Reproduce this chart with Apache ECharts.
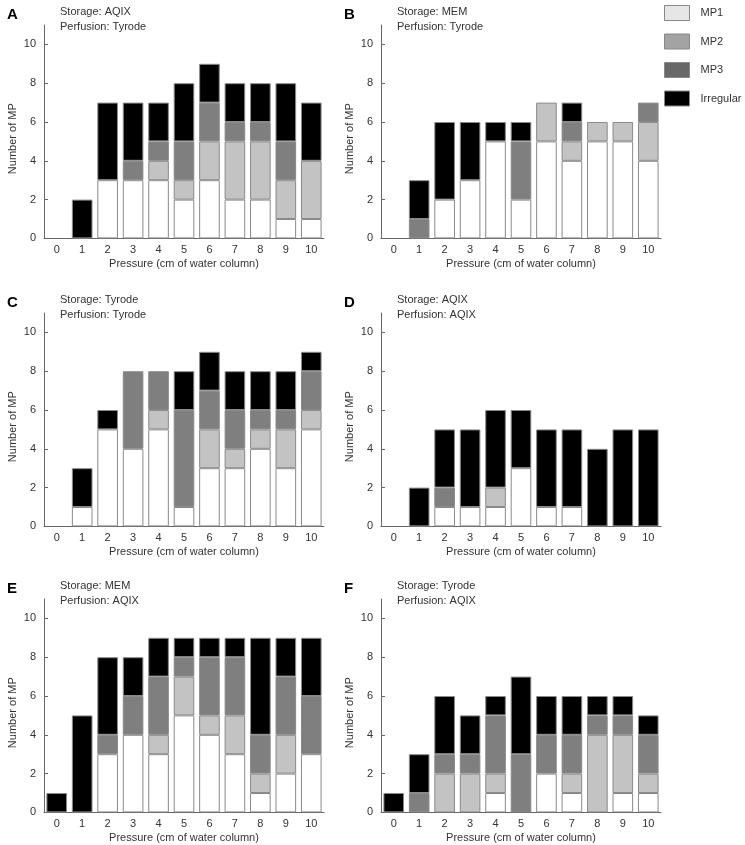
<!DOCTYPE html>
<html>
<head>
<meta charset="utf-8">
<script src="https://cdn.jsdelivr.net/npm/echarts@6/dist/echarts.min.js"></script>
<style>
  html, body { margin: 0; padding: 0; background: #fff; }
  #chart { width: 745px; height: 845px; }
</style>
</head>
<body>
<div id="chart"></div>
<script>
  // pressure categories (cm of water column)
  const pressures = ['0', '1', '2', '3', '4', '5', '6', '7', '8', '9', '10']
  const yTicks = [0, 2, 4, 6, 8, 10]
  const seriesNames = ['MP1', 'MP2', 'MP3', 'Irregular']

  // A: Storage AQIX / Perfusion Tyrode
  const A_MP1 = [0, 0, 3, 3, 3, 2, 3, 2, 2, 1, 1]
  const A_MP2 = [0, 0, 0, 0, 1, 1, 2, 3, 3, 2, 3]
  const A_MP3 = [0, 0, 0, 1, 1, 2, 2, 1, 1, 2, 0]
  const A_IRR = [0, 2, 4, 3, 2, 3, 2, 2, 2, 3, 3]
  // B: Storage MEM / Perfusion Tyrode
  const B_MP1 = [0, 0, 2, 3, 5, 2, 5, 4, 5, 5, 4]
  const B_MP2 = [0, 0, 0, 0, 0, 0, 2, 1, 1, 1, 2]
  const B_MP3 = [0, 1, 0, 0, 0, 3, 0, 1, 0, 0, 1]
  const B_IRR = [0, 2, 4, 3, 1, 1, 0, 1, 0, 0, 0]
  // C: Storage Tyrode / Perfusion Tyrode
  const C_MP1 = [0, 1, 5, 4, 5, 1, 3, 3, 4, 3, 5]
  const C_MP2 = [0, 0, 0, 0, 1, 0, 2, 1, 1, 2, 1]
  const C_MP3 = [0, 0, 0, 4, 2, 5, 2, 2, 1, 1, 2]
  const C_IRR = [0, 2, 1, 0, 0, 2, 2, 2, 2, 2, 1]
  // D: Storage AQIX / Perfusion AQIX
  const D_MP1 = [0, 0, 1, 1, 1, 3, 1, 1, 0, 0, 0]
  const D_MP2 = [0, 0, 0, 0, 1, 0, 0, 0, 0, 0, 0]
  const D_MP3 = [0, 0, 1, 0, 0, 0, 0, 0, 0, 0, 0]
  const D_IRR = [0, 2, 3, 4, 4, 3, 4, 4, 4, 5, 5]
  // E: Storage MEM / Perfusion AQIX
  const E_MP1 = [0, 0, 3, 4, 3, 5, 4, 3, 1, 2, 3]
  const E_MP2 = [0, 0, 0, 0, 1, 2, 1, 2, 1, 2, 0]
  const E_MP3 = [0, 0, 1, 2, 3, 1, 3, 3, 2, 3, 3]
  const E_IRR = [1, 5, 4, 2, 2, 1, 1, 1, 5, 2, 3]
  // F: Storage Tyrode / Perfusion AQIX
  const F_MP1 = [0, 0, 0, 0, 1, 0, 2, 1, 0, 1, 1]
  const F_MP2 = [0, 0, 2, 2, 1, 0, 0, 1, 4, 3, 1]
  const F_MP3 = [0, 1, 1, 1, 3, 3, 2, 2, 1, 1, 2]
  const F_IRR = [1, 2, 3, 2, 1, 4, 2, 2, 1, 1, 1]

  const panels = [
    { letter: 'A', storage: 'AQIX', perfusion: 'Tyrode', data: [A_MP1, A_MP2, A_MP3, A_IRR] },
    { letter: 'B', storage: 'MEM', perfusion: 'Tyrode', data: [B_MP1, B_MP2, B_MP3, B_IRR] },
    { letter: 'C', storage: 'Tyrode', perfusion: 'Tyrode', data: [C_MP1, C_MP2, C_MP3, C_IRR] },
    { letter: 'D', storage: 'AQIX', perfusion: 'AQIX', data: [D_MP1, D_MP2, D_MP3, D_IRR] },
    { letter: 'E', storage: 'MEM', perfusion: 'AQIX', data: [E_MP1, E_MP2, E_MP3, E_IRR] },
    { letter: 'F', storage: 'Tyrode', perfusion: 'AQIX', data: [F_MP1, F_MP2, F_MP3, F_IRR] }
  ]

  const barColors = ['#ffffff', '#c2c3c2', '#7f7f7f', '#000000']
  const legendColors = ['#e6e6e6', '#a3a3a3', '#686868', '#000000']
  const font = 'Liberation Sans'
  const lefts = [44, 381]
  const tops = [25, 313, 599]
  const gridW = 280
  const gridH = 213.4

  const grids = []
  const xAxes = []
  const yAxes = []
  const series = []
  const graphics = []

  panels.forEach((p, i) => {
    const left = lefts[i % 2]
    const top = tops[Math.floor(i / 2)]
    grids.push({ left: left, top: top, width: gridW, height: gridH })
    xAxes.push({
      type: 'category',
      gridIndex: i,
      data: pressures,
      name: 'Pressure (cm of water column)',
      nameLocation: 'middle',
      nameGap: 20,
      nameTextStyle: { fontFamily: font, fontSize: 11, color: '#333' },
      axisLine: { lineStyle: { color: '#666', width: 1 } },
      axisTick: { inside: true, length: 4, lineStyle: { color: '#666' } },
      axisLabel: { fontFamily: font, fontSize: 11, color: '#333', margin: 6 }
    })
    yAxes.push({
      type: 'value',
      gridIndex: i,
      min: 0,
      max: 11,
      interval: 2,
      name: 'Number of MP',
      nameLocation: 'middle',
      nameGap: 26,
      nameTextStyle: { fontFamily: font, fontSize: 11, color: '#333', padding: [0, 14, 0, 0] },
      splitLine: { show: false },
      axisLine: { show: true, lineStyle: { color: '#666', width: 1 } },
      axisTick: { show: true, inside: true, length: 4, customValues: yTicks, lineStyle: { color: '#666' } },
      axisLabel: { fontFamily: font, fontSize: 11, color: '#333', margin: 8, customValues: yTicks }
    })
    p.data.forEach((vals, k) => {
      series.push({
        name: seriesNames[k],
        type: 'bar',
        xAxisIndex: i,
        yAxisIndex: i,
        stack: 'panel' + p.letter,
        barWidth: '81%',
        itemStyle: { color: barColors[k], borderColor: '#8a8a8a', borderWidth: 1 },
        data: vals.map(v => (v === 0 ? '-' : v))
      })
    })
    graphics.push({
      type: 'text',
      left: left - 37,
      top: top - 18,
      style: { text: p.letter, font: 'bold 15px ' + font, fill: '#000' }
    })
    graphics.push({
      type: 'text',
      left: left + 16,
      top: top - 19,
      style: { text: 'Storage: ' + p.storage, font: '11px ' + font, fill: '#333' }
    })
    graphics.push({
      type: 'text',
      left: left + 16,
      top: top - 4,
      style: { text: 'Perfusion: ' + p.perfusion, font: '11px ' + font, fill: '#333' }
    })
  })

  const chart = echarts.init(document.getElementById('chart'))
  chart.setOption({
    animation: false,
    legend: {
      orient: 'vertical',
      left: 664,
      top: 5,
      padding: 0,
      itemWidth: 25,
      itemHeight: 15,
      itemGap: 12.5,
      icon: 'rect',
      selectedMode: false,
      textStyle: { fontFamily: font, fontSize: 11, color: '#333', padding: [0, 0, 0, 6] },
      data: seriesNames.map((n, k) => ({
        name: n,
        itemStyle: { color: legendColors[k], borderColor: '#888', borderWidth: 1 }
      }))
    },
    grid: grids,
    xAxis: xAxes,
    yAxis: yAxes,
    series: series,
    graphic: graphics
  })
</script>
</body>
</html>
